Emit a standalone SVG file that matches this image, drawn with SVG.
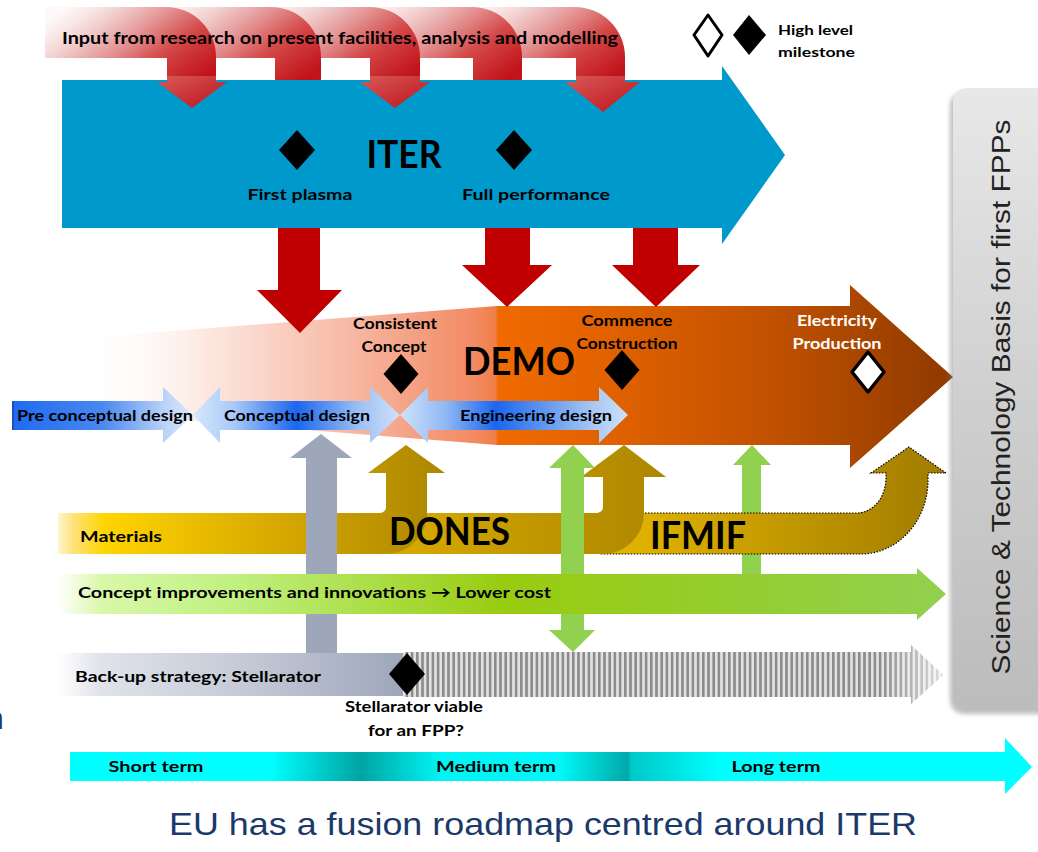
<svg xmlns="http://www.w3.org/2000/svg" width="1038" height="852" viewBox="0 0 1038 852">
<style>
.t{font-family:Lato,'Open Sans','DejaVu Sans',sans-serif;font-weight:bold;fill:#000}
.m{text-anchor:middle}
.s15{font-size:15px}.s16{font-size:16px}.s17{font-size:17px}.s14{font-size:14px}
.big{font-size:38px}
.dia{fill:#000}
.wdia{fill:#fff;stroke:#000;stroke-width:3.5;stroke-linejoin:round}
.redbent{fill:url(#gRedBent)}
.redhead{fill:url(#gRedHead)}
.reddown{fill:#C00000}
.green{fill:#92D050}
.gray{fill:#9EA6BA}
.gold{fill:url(#gGold)}
.arial{font-family:'Liberation Sans',Arial,sans-serif}
</style>
<defs>
<linearGradient id="gRedBent" x1="0" y1="0.2" x2="1" y2="0.8">
<stop offset="0" stop-color="#F2C4C4" stop-opacity="0.1"/>
<stop offset="0.35" stop-color="#E49A9A" stop-opacity="0.75"/>
<stop offset="0.7" stop-color="#D44848"/>
<stop offset="1" stop-color="#C0141A"/>
</linearGradient>
<linearGradient id="gRedHead" x1="0" y1="0" x2="1" y2="1">
<stop offset="0" stop-color="#D85A5A"/>
<stop offset="1" stop-color="#BE1218"/>
</linearGradient>
<linearGradient id="gDemo" gradientUnits="userSpaceOnUse" x1="80" y1="0" x2="953" y2="0">
<stop offset="0" stop-color="#FFFFFF" stop-opacity="0"/>
<stop offset="0.15" stop-color="#FCE6DE"/>
<stop offset="0.3" stop-color="#F7BBA8"/>
<stop offset="0.45" stop-color="#F28B64"/>
<stop offset="0.476" stop-color="#F07F48"/>
<stop offset="0.479" stop-color="#F06A00"/>
<stop offset="0.6" stop-color="#E26200"/>
<stop offset="0.8" stop-color="#C05000"/>
<stop offset="1" stop-color="#8E3A00"/>
</linearGradient>
<linearGradient id="gPre" gradientUnits="userSpaceOnUse" x1="12" y1="0" x2="193" y2="0">
<stop offset="0" stop-color="#1E6AF0"/>
<stop offset="0.5" stop-color="#4A88F0"/>
<stop offset="0.85" stop-color="#BCD4F8"/>
<stop offset="1" stop-color="#DCE8FA"/>
</linearGradient>
<linearGradient id="gConc" gradientUnits="userSpaceOnUse" x1="193" y1="0" x2="400" y2="0">
<stop offset="0" stop-color="#D8E8FC"/>
<stop offset="0.2" stop-color="#A8C8F8"/>
<stop offset="0.5" stop-color="#1A66EE"/>
<stop offset="0.8" stop-color="#9CC0F4"/>
<stop offset="1" stop-color="#D0E0F8"/>
</linearGradient>
<linearGradient id="gEng" gradientUnits="userSpaceOnUse" x1="400" y1="0" x2="628" y2="0">
<stop offset="0" stop-color="#D0E2FA"/>
<stop offset="0.2" stop-color="#90B8F4"/>
<stop offset="0.42" stop-color="#1A66EE"/>
<stop offset="0.85" stop-color="#A8C8F4"/>
<stop offset="1" stop-color="#D0E0F8"/>
</linearGradient>
<linearGradient id="gGold" x1="0" y1="0" x2="1" y2="0">
<stop offset="0" stop-color="#FFF6CC"/>
<stop offset="0.04" stop-color="#FDE27A"/>
<stop offset="0.12" stop-color="#FFD400"/>
<stop offset="0.55" stop-color="#D8AA00"/>
<stop offset="1" stop-color="#AC8600"/>
</linearGradient>
<linearGradient id="gIfmif" x1="0" y1="0" x2="1" y2="0">
<stop offset="0" stop-color="#E6B800"/>
<stop offset="0.4" stop-color="#CCA000"/>
<stop offset="1" stop-color="#A07C00"/>
</linearGradient>
<linearGradient id="gConcept" gradientUnits="userSpaceOnUse" x1="58" y1="0" x2="946" y2="0">
<stop offset="0" stop-color="#FFFFFF"/>
<stop offset="0.05" stop-color="#D8F8A8"/>
<stop offset="0.2" stop-color="#C0F080"/>
<stop offset="0.5" stop-color="#98CC10"/>
<stop offset="0.65" stop-color="#96CC20"/>
<stop offset="1" stop-color="#92D050"/>
</linearGradient>
<linearGradient id="gBackup" gradientUnits="userSpaceOnUse" x1="58" y1="0" x2="403" y2="0">
<stop offset="0" stop-color="#FFFFFF"/>
<stop offset="0.12" stop-color="#E0E3EA"/>
<stop offset="0.55" stop-color="#C4C9D6"/>
<stop offset="1" stop-color="#9EA6BA"/>
</linearGradient>
<linearGradient id="gFade" x1="0" y1="0" x2="1" y2="0">
<stop offset="0" stop-color="#FFFFFF" stop-opacity="0"/>
<stop offset="1" stop-color="#FFFFFF" stop-opacity="0.7"/>
</linearGradient>
<pattern id="pStripe" patternUnits="userSpaceOnUse" width="5.2" height="10">
<rect width="5.2" height="10" fill="#E2E2E2"/>
<rect width="2.6" height="10" fill="#8C8C8C"/>
</pattern>
<linearGradient id="gTime" gradientUnits="userSpaceOnUse" x1="70" y1="0" x2="1032" y2="0">
<stop offset="0" stop-color="#00FFFF"/>
<stop offset="0.208" stop-color="#00FFFF"/>
<stop offset="0.302" stop-color="#00A4A4"/>
<stop offset="0.385" stop-color="#00F4F4"/>
<stop offset="0.509" stop-color="#00F8F8"/>
<stop offset="0.58" stop-color="#00A8A8"/>
<stop offset="0.583" stop-color="#00C8C8"/>
<stop offset="0.676" stop-color="#00FFFF"/>
<stop offset="1" stop-color="#00FFFF"/>
</linearGradient>
<linearGradient id="gPanel" x1="0" y1="0" x2="0" y2="1">
<stop offset="0" stop-color="#E8E8E8"/>
<stop offset="0.5" stop-color="#CFCFCF"/>
<stop offset="1" stop-color="#BCBCBC"/>
</linearGradient>
<filter id="fShadow" x="-20%" y="-5%" width="140%" height="110%">
<feGaussianBlur stdDeviation="2"/>
</filter>
</defs>

<!-- Input from research: bent arrows -->
<g id="input-research">
<path class="redbent" d="M450,7 H575 A50 50 0 0 1 625,57 V82 H576 V58 H450 Z"/>
<path class="redbent" d="M345,7 H472 A50 50 0 0 1 522,57 V82 H473 V58 H345 Z"/>
<path class="redbent" d="M240,7 H370 A50 50 0 0 1 420,57 V82 H370 V58 H240 Z"/>
<path class="redbent" d="M140,7 H271 A50 50 0 0 1 321,57 V82 H275 V58 H140 Z"/>
<path class="redbent" d="M45,7 H166 A50 50 0 0 1 216,57 V82 H167 V58 H45 Z"/>
</g>

<!-- ITER -->
<g id="iter">
<polygon points="62,80 722,80 722,66 785,155 722,244 722,228 62,228" fill="#0099CC"/>
<text class="t m big" x="404" y="168" textLength="75" lengthAdjust="spacingAndGlyphs">ITER</text>
<polygon class="dia" points="297,130 315,150 297,170 279,150"/>
<polygon class="dia" points="514,130 532,150 514,170 496,150"/>
<text class="t m s16" x="300" y="200" textLength="105" lengthAdjust="spacingAndGlyphs">First plasma</text>
<text class="t m s16" x="536" y="200" textLength="148" lengthAdjust="spacingAndGlyphs">Full performance</text>
</g>

<g id="input-heads">
<polygon class="redhead" points="167,76 216,76 216,82 227,82 192,108 157,82 167,82"/>
<polygon class="redhead" points="370,76 420,76 420,82 430,82 395,108 360,82 370,82"/>
<polygon class="redhead" points="576,76 625,76 625,82 640,82 603,112 565,82 576,82"/>
<text class="t s17" x="62" y="44" textLength="556" lengthAdjust="spacingAndGlyphs">Input from research on present facilities, analysis and modelling</text>
</g>

<!-- Legend -->
<g id="legend">
<polygon class="wdia" points="708,15 722,35 708,56 694,35" style="stroke-width:3"/>
<polygon class="dia" points="749,15 766,35 749,55 733,35"/>
<text class="t s14" x="778" y="35" textLength="75" lengthAdjust="spacingAndGlyphs">High level</text>
<text class="t s14" x="778" y="57" textLength="77" lengthAdjust="spacingAndGlyphs">milestone</text>
</g>

<!-- DEMO -->
<g id="demo">
<polygon points="80,338 497,306 850,306 850,285 953,377 850,468 850,445 497,445 80,412" fill="url(#gDemo)"/>
<text class="t m big" x="519" y="375" textLength="112" lengthAdjust="spacingAndGlyphs">DEMO</text>
<text class="t m s15" x="395" y="329" textLength="84" lengthAdjust="spacingAndGlyphs">Consistent</text>
<text class="t m s15" x="394" y="352" textLength="65" lengthAdjust="spacingAndGlyphs">Concept</text>
<polygon class="dia" points="401,354 418.5,374 401,394 383.5,374"/>
<text class="t m s15" x="627" y="326" textLength="91" lengthAdjust="spacingAndGlyphs">Commence</text>
<text class="t m s15" x="627" y="349" textLength="101" lengthAdjust="spacingAndGlyphs">Construction</text>
<polygon class="dia" points="622,350 639.5,370 622,390 604.5,370"/>
<text class="t m s15" x="837" y="326" style="fill:#fff" textLength="80" lengthAdjust="spacingAndGlyphs">Electricity</text>
<text class="t m s15" x="837" y="349" style="fill:#fff" textLength="89" lengthAdjust="spacingAndGlyphs">Production</text>
<polygon class="wdia" points="868,352 884,372 868,392 852,372"/>
</g>

<!-- Design phases -->
<g id="pre-conceptual-design">
<polygon points="12,401 163,401 163,387 193,415 163,443 163,430 12,430" fill="url(#gPre)"/>
<rect x="12" y="401" width="2" height="29" fill="#1A4FC0"/>
<text class="t s16" x="17" y="421" textLength="176" lengthAdjust="spacingAndGlyphs">Pre conceptual design</text>
</g>
<g id="conceptual-design">
<polygon points="193,415 220,387 220,401 370,401 370,387 400,415 370,443 370,430 220,430 220,443" fill="url(#gConc)"/>
<text class="t s16" x="224" y="421" textLength="146" lengthAdjust="spacingAndGlyphs">Conceptual design</text>
</g>
<g id="engineering-design">
<polygon points="400,415 428,387 428,401 599,401 599,387 628,415 599,443 599,430 428,430 428,443" fill="url(#gEng)"/>
<text class="t s16" x="460" y="421" textLength="152" lengthAdjust="spacingAndGlyphs">Engineering design</text>
</g>

<g id="ifmif-feed">
<polygon class="green" points="752,445 771,465 761,465 761,574 742,574 742,465 733,465"/>
</g>

<!-- Materials / DONES / IFMIF -->
<g id="ifmif">
<path d="M600,513 H857 A29 35 0 0 0 886,478 V473 H871 L909,447 L946,473 H928 V480 A67 74 0 0 1 861,554 H600 Z" fill="url(#gIfmif)" stroke="#000" stroke-width="1.2" stroke-dasharray="1.5 1.5"/>
<text class="t big" x="650" y="549" textLength="96" lengthAdjust="spacingAndGlyphs">IFMIF</text>
</g>
<g id="dones">
<path class="gold" d="M58,513 H597 A6 6 0 0 0 603,507 V477 H581 L624,445 L666,477 H644 V513 A41 41 0 0 1 603,554 H58 Z"/>
<path class="gold" d="M58,513 H380 A6 6 0 0 0 386,507 V473 H368 L406,445 L445,473 H427 V513 A41 41 0 0 1 386,554 H58 Z"/>
<text class="t s16" x="80" y="542" textLength="82" lengthAdjust="spacingAndGlyphs">Materials</text>
<text class="t big" x="389" y="545" textLength="121" lengthAdjust="spacingAndGlyphs">DONES</text>
</g>

<!-- Connectors -->
<g id="connectors">
<polygon class="reddown" points="278,228 320,228 320,290 342,290 300,333 257,290 278,290"/>
<polygon class="reddown" points="485,228 530,228 530,265 552,265 507,307 462,265 485,265"/>
<polygon class="reddown" points="633,228 678,228 678,265 700,265 656,307 612,265 633,265"/>
<polygon class="green" points="573,445 595,468 584,468 584,630 595,630 573,652 549,630 561,630 561,468 549,468"/>
<polygon class="gray" points="321,434 352,458 337,458 337,653 306,653 306,458 290,458"/>
</g>

<!-- Concept improvements -->
<g id="concept-improvements">
<polygon points="58,574 917,574 917,568 946,594 917,620 917,614 58,614" fill="url(#gConcept)"/>
<text class="t s16" x="78" y="598" textLength="473" lengthAdjust="spacingAndGlyphs">Concept improvements and innovations → Lower cost</text>
</g>

<!-- Back-up strategy -->
<g id="backup-stellarator">
<rect x="58" y="653" width="345" height="43" fill="url(#gBackup)"/>
<polygon points="403,652 911,652 911,645 943,675 911,704 911,697 403,697" fill="url(#pStripe)"/>
<polygon points="880,652 911,652 911,645 943,675 911,704 911,697 880,697" fill="url(#gFade)"/>
<polygon class="dia" points="407,653 425,674 407,695 389,674"/>
<text class="t s16" x="75" y="682" textLength="246" lengthAdjust="spacingAndGlyphs">Back-up strategy: Stellarator</text>
<text class="t m s15" x="414" y="712" textLength="138" lengthAdjust="spacingAndGlyphs">Stellarator viable</text>
<text class="t m s15" x="416" y="736" textLength="96" lengthAdjust="spacingAndGlyphs">for an FPP?</text>
</g>

<!-- Timeline -->
<g id="timeline">
<polygon points="70,752 1005,752 1005,738 1032,767 1005,794 1005,781 70,781" fill="url(#gTime)"/>
<text class="t m s16" x="156" y="772" textLength="95" lengthAdjust="spacingAndGlyphs">Short term</text>
<text class="t m s16" x="496" y="772" textLength="120" lengthAdjust="spacingAndGlyphs">Medium term</text>
<text class="t m s16" x="776" y="772" textLength="89" lengthAdjust="spacingAndGlyphs">Long term</text>
</g>

<!-- Science & Technology panel -->
<g id="st-basis">
<rect x="950" y="92" width="110" height="622" rx="14" fill="#7F7F7F" opacity="0.5" filter="url(#fShadow)"/>
<rect x="953" y="88" width="110" height="622" rx="14" fill="url(#gPanel)"/>
<text class="arial m" x="1010" y="397" transform="rotate(-90 1010 397)" style="font-size:26px;fill:#222" textLength="555" lengthAdjust="spacingAndGlyphs">Science &amp; Technology Basis for first FPPs</text>
</g>

<!-- Title -->
<g id="title">
<text class="arial m" x="543" y="835" style="font-size:32px;fill:#1B3A6B" textLength="748" lengthAdjust="spacingAndGlyphs">EU has a fusion roadmap centred around ITER</text>
<text class="arial" x="-14" y="729" style="font-size:32px;fill:#1B3A6B">n</text>
</g>
</svg>
